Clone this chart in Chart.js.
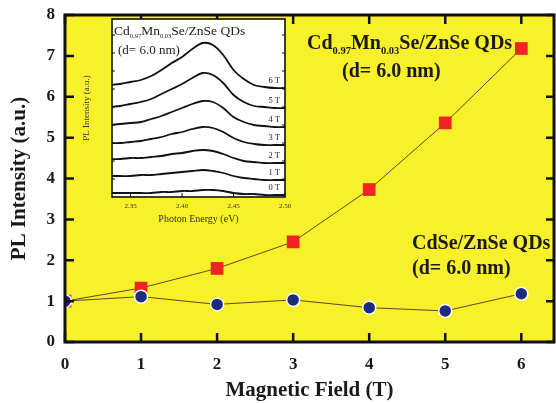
<!DOCTYPE html>
<html><head><meta charset="utf-8">
<script src="https://cdn.jsdelivr.net/npm/chart.js@4.4.1/dist/chart.umd.min.js"></script>
<style>
html,body{margin:0;padding:0;background:#fff;}
#wrap{position:relative;width:556px;height:403px;overflow:hidden;}
#main{position:absolute;left:0;top:0;}
#inset{position:absolute;left:78px;top:17px;}
</style></head><body>
<div id="wrap"><canvas id="main" width="556" height="403"></canvas><canvas id="inset" width="214" height="214"></canvas></div>
<script>
// ---- main chart data ----
const fieldT = [0, 1, 2, 3, 4, 5, 6];
const cdmnseIntensity = [1.00, 1.32, 1.80, 2.45, 3.73, 5.36, 7.18];
const cdseIntensity = [1.00, 1.11, 0.92, 1.03, 0.84, 0.76, 1.18];
const mainXTicks = [0, 1, 2, 3, 4, 5, 6];
const mainYTicks = [0, 1, 2, 3, 4, 5, 6, 7, 8];

// ---- inset data (PL spectra, offset per field) ----
const photonEnergy = [2.33, 2.34, 2.35, 2.36, 2.37, 2.38, 2.39, 2.40, 2.41, 2.42, 2.43, 2.44, 2.45, 2.46, 2.47, 2.48, 2.49, 2.50];
const spectrum0T = [4, 4, 4, 4, 4, 5, 5, 6, 6, 7, 7, 6, 4, 3, 3, 2, 2, 2];
const spectrum1T = [21, 21, 21, 22, 22, 23, 24, 25, 26, 27, 26, 24, 21, 19, 18, 17, 17, 17];
const spectrum2T = [38, 38, 39, 39, 40, 41, 43, 44, 46, 47, 46, 43, 39, 36, 35, 34, 34, 34];
const spectrum3T = [54, 54, 55, 56, 58, 60, 63, 65, 68, 70, 69, 65, 59, 55, 53, 52, 52, 52];
const spectrum4T = [72, 73, 74, 75, 78, 81, 85, 89, 93, 96, 95, 89, 80, 75, 72, 71, 70, 70];
const spectrum5T = [90, 91, 93, 95, 98, 103, 108, 113, 119, 124, 122, 114, 102, 95, 91, 90, 89, 89];
const spectrum6T = [112, 113, 115, 117, 121, 127, 134, 140, 148, 154, 152, 142, 127, 118, 112, 110, 109, 109];
const spectra = [spectrum0T, spectrum1T, spectrum2T, spectrum3T, spectrum4T, spectrum5T, spectrum6T];
const spectrumLabels = ['0 T', '1 T', '2 T', '3 T', '4 T', '5 T', '6 T'];
const insetXTicks = [2.35, 2.40, 2.45, 2.50];
const insetYTicks = [18, 36, 54, 72, 90, 108, 126, 144, 162];

const SERIF = '"Liberation Serif", "DejaVu Serif", serif';

function drawRich(ctx, parts, x, y, size, subSize, subDrop, weight) {
  let cx = x;
  parts.forEach(p => {
    const s = p.sub ? subSize : size;
    ctx.font = weight + ' ' + s + 'px ' + SERIF;
    ctx.fillText(p.t, cx, y + (p.sub ? subDrop : 0));
    cx += ctx.measureText(p.t).width;
  });
}
function noPad(s) { s.paddingLeft = 0; s.paddingRight = 0; s.paddingTop = 0; s.paddingBottom = 0; }

const mainDeco = {
  id: 'mainDeco',
  beforeDraw(chart) {
    const {ctx, chartArea: a} = chart;
    ctx.save();
    ctx.fillStyle = '#f7f02a';
    ctx.fillRect(a.left, a.top, a.right - a.left, a.bottom - a.top);
    ctx.restore();
  },
  afterDraw(chart) {
    const {ctx, chartArea: a, scales: {x, y}} = chart;
    ctx.save();
    ctx.strokeStyle = '#111';
    ctx.lineWidth = 2.5;
    mainXTicks.forEach(v => {
      const px = x.getPixelForValue(v);
      ctx.beginPath();
      ctx.moveTo(px, a.bottom); ctx.lineTo(px, a.bottom - 9);
      ctx.moveTo(px, a.top); ctx.lineTo(px, a.top + 9);
      ctx.stroke();
    });
    mainYTicks.forEach(v => {
      const py = y.getPixelForValue(v);
      ctx.beginPath();
      ctx.moveTo(a.left, py); ctx.lineTo(a.left + 9, py);
      ctx.moveTo(a.right, py); ctx.lineTo(a.right - 8, py);
      ctx.stroke();
    });
    ctx.lineWidth = 3;
    ctx.strokeRect(a.left, a.top, a.right - a.left, a.bottom - a.top);
    // annotations
    ctx.fillStyle = '#1a1a1a';
    ctx.textBaseline = 'alphabetic';
    ctx.textAlign = 'left';
    drawRich(ctx, [{t: 'Cd'}, {t: '0.97', sub: true}, {t: 'Mn'}, {t: '0.03', sub: true}, {t: 'Se/ZnSe QDs'}], 307, 49, 20, 10.5, 5, 'bold');
    drawRich(ctx, [{t: '(d= 6.0 nm)'}], 342, 77, 20, 10, 5, 'bold');
    drawRich(ctx, [{t: 'CdSe/ZnSe QDs'}], 412, 249, 20, 10, 5, 'bold');
    drawRich(ctx, [{t: '(d= 6.0 nm)'}], 412, 274, 20, 10, 5, 'bold');
    ctx.restore();
  }
};

new Chart(document.getElementById('main'), {
  type: 'line',
  data: {
    datasets: [
      {
        label: 'CdSe/ZnSe QDs',
        data: fieldT.map((f, i) => ({x: f, y: cdseIntensity[i]})),
        borderColor: '#5b4b28', borderWidth: 1,
        pointStyle: 'circle', pointRadius: 6.5, pointBackgroundColor: '#1c2c7a',
        pointBorderColor: '#ffffff', pointBorderWidth: 1.5
      },
      {
        label: 'Cd0.97Mn0.03Se/ZnSe QDs',
        data: fieldT.map((f, i) => ({x: f, y: cdmnseIntensity[i]})),
        borderColor: '#5b4b28', borderWidth: 1,
        pointStyle: 'rect', pointRadius: 9, pointBackgroundColor: '#f02424',
        pointBorderColor: '#f02424', pointBorderWidth: 0
      }
    ]
  },
  options: {
    responsive: false, animation: false, devicePixelRatio: 1,
    layout: {autoPadding: false, padding: {left: 7, top: 15, right: 2, bottom: 0}},
    plugins: {legend: {display: false}, tooltip: {enabled: false}},
    scales: {
      x: {
        type: 'linear', min: 0, max: 6.43,
        grid: {display: false, drawTicks: false}, border: {display: false},
        ticks: {stepSize: 1, includeBounds: false, padding: 12, color: '#1a1a1a',
          font: {family: SERIF, size: 17, weight: 'bold'},
          callback: v => Number.isInteger(v) ? String(v) : ''},
        title: {display: true, text: 'Magnetic Field (T)', color: '#1a1a1a', padding: {top: 0, bottom: 0},
          font: {family: SERIF, size: 21, weight: 'bold'}},
        afterFit: s => { s.height = 61; noPad(s); }
      },
      y: {
        type: 'linear', min: 0, max: 8,
        grid: {display: false, drawTicks: false}, border: {display: false},
        ticks: {stepSize: 1, padding: 10, color: '#1a1a1a',
          font: {family: SERIF, size: 17, weight: 'bold'}},
        title: {display: true, text: 'PL Intensity (a.u.)', color: '#1a1a1a', padding: {top: 0, bottom: 0},
          font: {family: SERIF, size: 21, weight: 'bold'}},
        afterFit: s => { s.width = 58; noPad(s); }
      }
    }
  },
  plugins: [mainDeco]
});

const insetDeco = {
  id: 'insetDeco',
  beforeDraw(chart) {
    const {ctx, chartArea: a} = chart;
    ctx.save();
    ctx.fillStyle = '#ffffff';
    ctx.fillRect(a.left, a.top, a.right - a.left, a.bottom - a.top);
    ctx.restore();
  },
  afterDraw(chart) {
    const {ctx, chartArea: a, scales: {x, y}} = chart;
    ctx.save();
    ctx.strokeStyle = '#111';
    ctx.lineWidth = 1;
    insetXTicks.forEach(v => {
      const px = x.getPixelForValue(v);
      ctx.beginPath(); ctx.moveTo(px, a.bottom); ctx.lineTo(px, a.bottom - 4); ctx.stroke();
    });
    insetYTicks.forEach(v => {
      const py = y.getPixelForValue(v);
      ctx.beginPath();
      ctx.moveTo(a.left, py); ctx.lineTo(a.left + 3, py);
      ctx.moveTo(a.right, py); ctx.lineTo(a.right - 3, py);
      ctx.stroke();
    });
    ctx.lineWidth = 1.6;
    ctx.strokeRect(a.left, a.top, a.right - a.left, a.bottom - a.top);
    ctx.fillStyle = '#222';
    ctx.textAlign = 'right';
    ctx.textBaseline = 'middle';
    ctx.font = '8.5px ' + SERIF;
    spectra.forEach((s, i) => {
      const py = y.getPixelForValue(s[s.length - 1]) - 7;
      ctx.fillText(spectrumLabels[i], a.right - 5, py);
    });
    ctx.textAlign = 'left';
    ctx.textBaseline = 'alphabetic';
    drawRich(ctx, [{t: 'Cd'}, {t: '0.97', sub: true}, {t: 'Mn'}, {t: '0.03', sub: true}, {t: 'Se/ZnSe QDs'}], a.left + 2, a.top + 16, 13.5, 6.5, 3, 'normal');
    drawRich(ctx, [{t: '(d= 6.0 nm)'}], a.left + 6, a.top + 35, 13, 6, 3, 'normal');
    ctx.restore();
  }
};

new Chart(document.getElementById('inset'), {
  type: 'line',
  data: {
    datasets: spectra.map((s, i) => ({
      label: spectrumLabels[i],
      data: photonEnergy.map((e, j) => ({x: e, y: s[j]})),
      borderColor: '#111', borderWidth: 1.8, pointRadius: 0, tension: 0.35
    }))
  },
  options: {
    responsive: false, animation: false, devicePixelRatio: 1,
    layout: {autoPadding: false, padding: {left: 0, top: 2, right: 7, bottom: 0}},
    plugins: {legend: {display: false}, tooltip: {enabled: false}},
    scales: {
      x: {
        type: 'linear', min: 2.332, max: 2.50,
        grid: {display: false, drawTicks: false}, border: {display: false},
        ticks: {stepSize: 0.05, includeBounds: false, padding: 5, color: '#333',
          font: {family: SERIF, size: 7}, maxRotation: 0,
          callback: v => Number(v).toFixed(2)},
        title: {display: true, text: 'Photon Energy (eV)', color: '#333', padding: {top: 0, bottom: 6},
          font: {family: SERIF, size: 10}},
        afterFit: s => { s.height = 34; noPad(s); }
      },
      y: {
        type: 'linear', min: 0, max: 178,
        grid: {display: false, drawTicks: false}, border: {display: false},
        ticks: {display: false},
        title: {display: true, text: 'PL Intensity (a.u.)', color: '#333', padding: {top: 3, bottom: 0},
          font: {family: SERIF, size: 9}},
        afterFit: s => { s.width = 34; noPad(s); }
      }
    }
  },
  plugins: [insetDeco]
});
</script>
</body></html>
